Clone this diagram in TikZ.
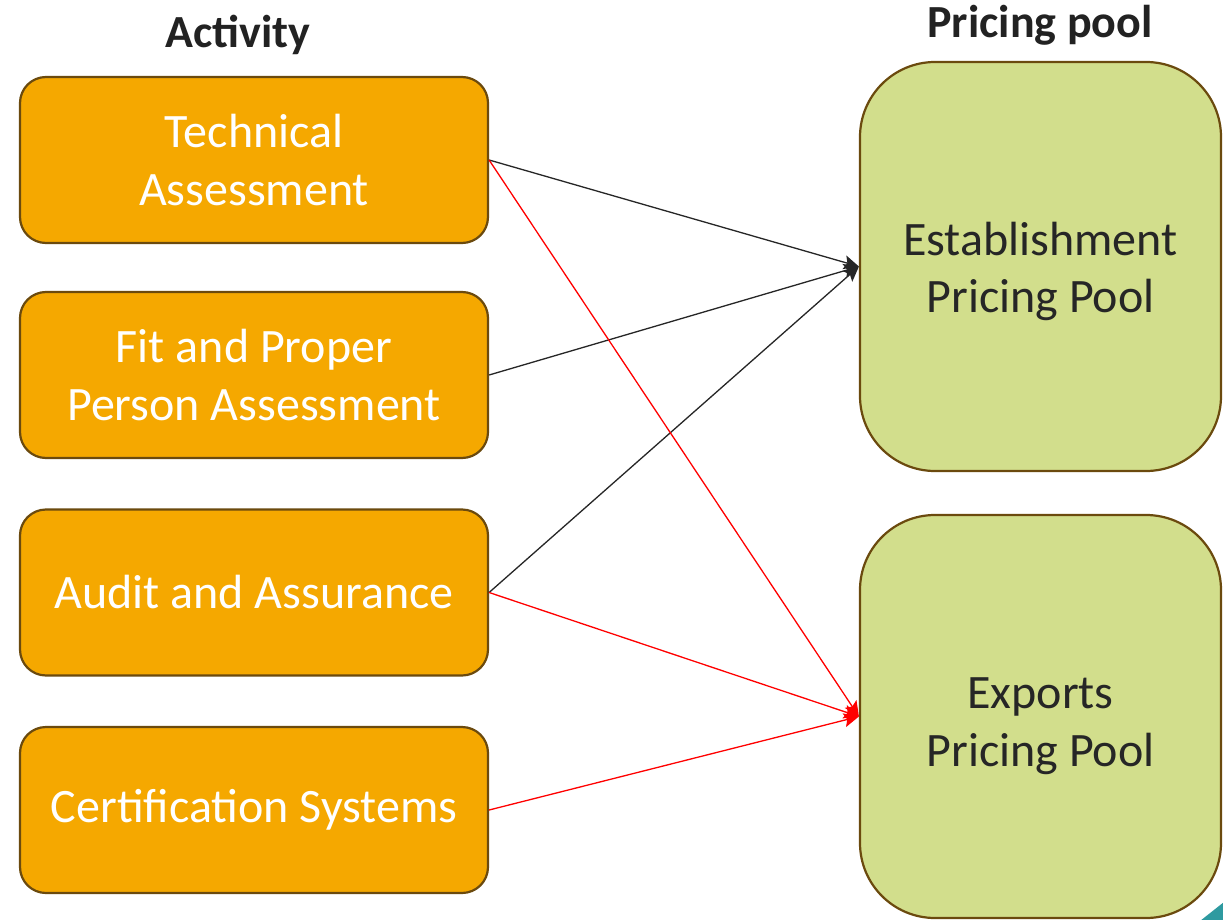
\documentclass[tikz,border=0pt]{standalone}
\usepackage{fontspec}
\setmainfont{Carlito}
\usetikzlibrary{arrows.meta}
\definecolor{actfill}{HTML}{F5A800}
\definecolor{poolfill}{HTML}{D2DE8C}
\definecolor{edgebrown}{HTML}{6B4A0E}
\definecolor{titlegray}{HTML}{222222}
\definecolor{pooltext}{HTML}{262626}
\definecolor{tealc}{HTML}{2E9AA0}
\tikzset{
  actbox/.style={draw=edgebrown, line width=2.2pt, fill=actfill, rounded corners=26pt,
    minimum width=468pt, minimum height=166pt, inner sep=0pt, align=center,
    text=white, font=\fontsize{48}{57.6}\selectfont},
  poolbox/.style={draw=edgebrown, line width=2.2pt, fill=poolfill, rounded corners=75pt,
    minimum width=361pt, inner sep=0pt},
  pooltxt/.style={align=center, text=pooltext, font=\fontsize{48}{57.6}\selectfont},
  title/.style={text=titlegray, font=\bfseries\fontsize{46}{55}\selectfont},
  conn/.style={line width=1.3pt, -{Stealth[length=15pt,width=14pt,inset=3pt]}},
}
\begin{document}
\begin{tikzpicture}[x=1pt,y=-1pt]
\useasboundingbox (0,0) rectangle (1223,920);
\fill[white] (0,0) rectangle (1223,920);
\begin{scope}
\clip (0,0) rectangle (1223,920);
\fill[tealc] (1200,921) -- (1224,902) -- (1224,921) -- cycle;
\end{scope}
\node[title] (t1) at (238,35) {Activity};
\node[title] (t2) at (1040,25) {Pricing pool};
\node[actbox] (a1) at (254,160) {Technical\\Assessment};
\node[actbox] (a2) at (254,375) {Fit and Proper\\Person Assessment};
\node[actbox] (a3) at (254,592.5) {Audit and Assurance};
\node[actbox] (a4) at (254,810) {Certification Systems};
\node[poolbox, minimum height=409pt,
  label={[pooltxt, yshift=-5pt]center:Establishment\\Pricing Pool}] (p1) at (1040.5,266.5) {};
\node[poolbox, minimum height=403pt,
  label={[pooltxt, yshift=-10pt]center:Exports\\Pricing Pool}] (p2) at (1040.5,716.5) {};
\draw[conn, black!85] (a1.east) -- (p1.west);
\draw[conn, black!85] (a2.east) -- (p1.west);
\draw[conn, black!85] (a3.east) -- (p1.west);
\draw[conn, red] (a1.east) -- (p2.west);
\draw[conn, red] (a3.east) -- (p2.west);
\draw[conn, red] (a4.east) -- (p2.west);
\end{tikzpicture}
\end{document}
